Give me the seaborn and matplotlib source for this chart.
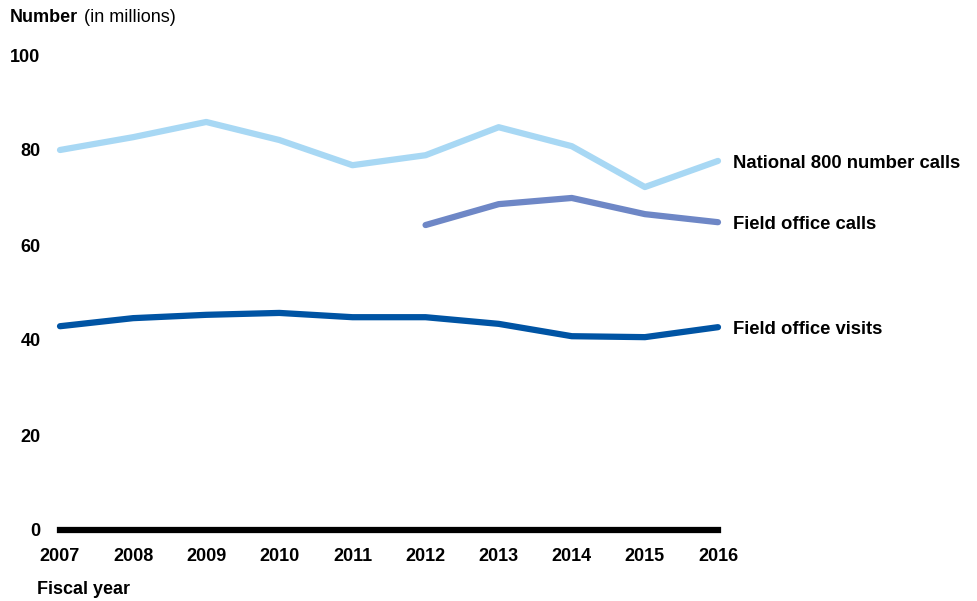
import matplotlib
matplotlib.use("Agg")
import matplotlib.pyplot as plt
import seaborn as sns
import pandas as pd
import numpy as np

years = [2007, 2008, 2009, 2010, 2011, 2012, 2013, 2014, 2015, 2016]
national_calls = [80.0, 82.7, 85.9, 82.1, 76.8, 78.9, 84.8, 80.8, 72.2, 77.7]
field_calls = [np.nan, np.nan, np.nan, np.nan, np.nan, 64.2, 68.6, 69.9, 66.5, 64.8]
field_visits = [42.9, 44.6, 45.3, 45.7, 44.8, 44.8, 43.4, 40.8, 40.6, 42.7]

series_names = ["National 800 number calls", "Field office calls", "Field office visits"]
series_colors = ["#a8d8f4", "#6e87c6", "#0054a4"]

df = pd.DataFrame({
    "year": years,
    series_names[0]: national_calls,
    series_names[1]: field_calls,
    series_names[2]: field_visits,
})

sns.set_style("white")
plt.rcParams["font.family"] = ["Liberation Sans", "DejaVu Sans"]
plt.rcParams["text.color"] = "black"
plt.rcParams["xtick.color"] = "black"
plt.rcParams["ytick.color"] = "black"

fig = plt.figure(figsize=(9.78, 6.01), dpi=100)
ax = fig.add_axes([60 / 978, 1 - 530 / 601, (718 - 60) / 978, (530 - 55) / 601])

for name, color in zip(series_names, series_colors):
    sns.lineplot(data=df, x="year", y=name, color=color, linewidth=4.5, ax=ax,
                 solid_capstyle="round", clip_on=False)
    last = df[name].iloc[-1]
    # labels sit a touch below the line ends in the original
    ax.text(years[-1] + 0.21, last - 0.5, name, fontsize=13.3, fontweight="bold",
            va="center", ha="left", color="black")

ax.set_xlim(years[0], years[-1])
ax.set_ylim(0, 100)
ax.set_yticks([0, 20, 40, 60, 80, 100])
ax.set_xticks(years)
ax.set_xticklabels([str(y) for y in years])
for sp in ["top", "right", "left"]:
    ax.spines[sp].set_visible(False)
ax.spines["bottom"].set_linewidth(4.5)
ax.spines["bottom"].set_color("black")
ax.tick_params(axis="both", length=0, labelsize=13, colors="black")
ax.tick_params(axis="x", pad=13)
ax.tick_params(axis="y", pad=14)
for lab in ax.get_xticklabels() + ax.get_yticklabels():
    lab.set_fontweight("bold")
ax.set_xlabel("")
ax.set_ylabel("")

fig.text(10 / 978, 1 - 18 / 601, "Number", fontsize=13, fontweight="bold", va="center", ha="left")
fig.text(84 / 978, 1 - 18 / 601, "(in millions)", fontsize=13, va="center", ha="left")
fig.text(37 / 978, 1 - 590 / 601, "Fiscal year", fontsize=13, fontweight="bold", va="center", ha="left")

fig.savefig("out.png", dpi=100)
